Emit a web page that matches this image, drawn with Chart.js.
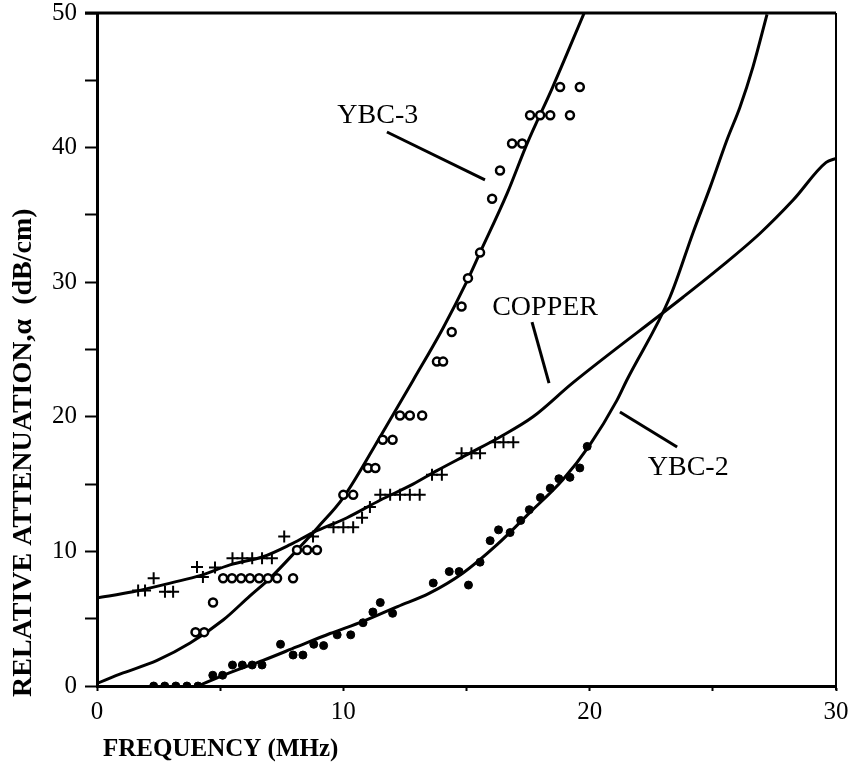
<!DOCTYPE html>
<html>
<head>
<meta charset="utf-8">
<script src="https://cdn.jsdelivr.net/npm/chart.js@4"></script>
<style>
  html, body { margin: 0; padding: 0; background: #fff; }
  #attn-chart { display: block; }
</style>
</head>
<body>
<canvas id="attn-chart" width="854" height="767"></canvas>
<script>
const ybc3X = [4.0, 4.35, 4.71, 5.12, 5.48, 5.85, 6.21, 6.58, 6.94, 7.31, 7.96, 8.12, 8.53, 8.93, 10.0, 10.4, 11.0, 11.3, 11.6, 12.0, 12.3, 12.7, 13.2, 13.8, 14.05, 14.4, 14.8, 15.06, 15.55, 16.04, 16.36, 16.85, 17.26, 17.58, 17.99, 18.4, 19.2, 18.8, 19.6]
const ybc3Y = [4.0, 4.0, 6.2, 8.0, 8.0, 8.0, 8.0, 8.0, 8.0, 8.0, 8.0, 10.1, 10.1, 10.1, 14.2, 14.2, 16.2, 16.2, 18.3, 18.3, 20.1, 20.1, 20.1, 24.1, 24.1, 26.3, 28.2, 30.3, 32.2, 36.2, 38.3, 40.3, 40.3, 42.4, 42.4, 42.4, 42.4, 44.5, 44.5]

const copperX = [1.67, 1.95, 2.3, 2.76, 3.09, 4.06, 4.3, 4.79, 5.5, 5.9, 6.3, 6.7, 7.1, 7.6, 8.77, 9.6, 10.0, 10.4, 10.76, 11.08, 11.5, 11.9, 12.3, 12.7, 13.1, 13.6, 14.0, 14.8, 15.2, 15.55, 16.16, 16.5, 16.9]
const copperY = [7.1, 7.1, 8.0, 7.0, 7.0, 8.85, 8.1, 8.8, 9.5, 9.5, 9.5, 9.5, 9.5, 11.1, 11.1, 11.8, 11.8, 11.8, 12.5, 13.3, 14.2, 14.2, 14.2, 14.2, 14.2, 15.7, 15.7, 17.3, 17.3, 17.3, 18.1, 18.1, 18.1]

const ybc2X = [2.3, 2.75, 3.2, 3.65, 4.1, 4.7, 5.1, 5.5, 5.9, 6.3, 6.7, 7.45, 7.96, 8.36, 8.8, 9.2, 9.75, 10.3, 10.8, 11.2, 11.5, 12.0, 13.65, 14.3, 14.7, 15.08, 15.55, 15.96, 16.3, 16.77, 17.2, 17.55, 18.0, 18.4, 18.75, 19.2, 19.6, 19.9]
const ybc2Y = [0, 0, 0, 0, 0, 0.8, 0.8, 1.56, 1.56, 1.56, 1.56, 3.1, 2.3, 2.3, 3.1, 3.0, 3.8, 3.8, 4.7, 5.5, 6.2, 5.4, 7.65, 8.5, 8.5, 7.5, 9.2, 10.8, 11.6, 11.4, 12.3, 13.1, 14.0, 14.7, 15.4, 15.5, 16.2, 17.8]

// fitted curves (traced)
const ybc3FitX = [0, 1.06, 2.44, 3.78, 5.12, 6.21, 7.02, 8.12, 8.97, 10.0, 11.49, 12.83, 14.05, 15.0, 15.55, 16.65, 17.46, 18.5, 19.8]
const ybc3FitY = [0.2, 0.97, 1.9, 3.19, 4.9, 6.7, 8.0, 10.1, 11.8, 14.0, 18.5, 22.7, 26.6, 30.0, 32.2, 36.6, 40.3, 44.5, 50.1]

const copperFitX = [0, 1.46, 3.09, 4.18, 5.4, 6.74, 7.84, 8.77, 10.15, 11.49, 12.83, 13.8, 15.14, 16.36, 17.7, 19.3, 23.8, 25.3, 26.9, 28.26, 29.6, 30]
const copperFitY = [6.55, 7.0, 7.7, 8.2, 9.0, 9.6, 10.5, 11.4, 12.5, 13.8, 15.0, 16.0, 17.3, 18.5, 20.0, 22.5, 28.9, 31.1, 33.6, 36.1, 38.9, 39.2]

const ybc2FitX = [4.18, 5.4, 6.74, 8.1, 9.46, 10.8, 12.2, 13.5, 14.86, 16.24, 17.58, 18.9, 20.0, 21.1, 21.5, 23.26, 24.2, 24.9, 25.58, 26.1, 26.63, 27.2]
const ybc2FitY = [0.07, 1.0, 1.9, 2.9, 3.9, 4.8, 5.9, 6.9, 8.4, 10.5, 12.9, 15.3, 17.9, 21.2, 22.7, 28.9, 33.7, 37.1, 40.6, 43.0, 46.0, 49.9]

// curve labels with their leader lines, in data units
const noteText = ['YBC-3', 'COPPER', 'YBC-2']
const noteX = [11.4, 18.19, 24.0]
const noteY = [42.4, 28.08, 16.2]
const leaderFromX = [11.77, 17.66, 21.23]
const leaderFromY = [41.16, 27.04, 20.36]
const leaderToX = [15.75, 18.35, 23.55]
const leaderToY = [37.6, 22.5, 17.76]

const xTitle = 'FREQUENCY (MHz)'
const yTitle = 'RELATIVE ATTENUATION,\u03b1  (dB/cm)'

const serif = "'Liberation Serif', 'DejaVu Serif', serif"

const toPoints = (xs, ys) => xs.map((x, i) => ({ x: x, y: ys[i] }))

const curve = (xs, ys) => ({
    type: 'line',
    data: toPoints(xs, ys),
    borderColor: '#000',
    borderWidth: 3,
    pointRadius: 0,
    cubicInterpolationMode: 'monotone',
    fill: false
})

// top and right edges of the frame, axis titles and curve labels
const framePlugin = {
    id: 'frame',
    afterDatasetsDraw(chart) {
        const { ctx, chartArea: a, scales } = chart
        ctx.save()
        ctx.strokeStyle = '#000'
        ctx.fillStyle = '#000'
        ctx.lineWidth = 3
        ctx.beginPath()
        ctx.moveTo(a.left - 12, a.top)
        ctx.lineTo(a.right, a.top)
        ctx.stroke()
        ctx.lineWidth = 2
        ctx.beginPath()
        ctx.moveTo(a.right, a.top)
        ctx.lineTo(a.right, a.bottom + 4)
        ctx.stroke()

        // curve labels
        ctx.lineWidth = 3
        ctx.font = "28px " + serif
        ctx.textAlign = 'center'
        ctx.textBaseline = 'middle'
        for (let i = 0; i < noteText.length; i++) {
            ctx.beginPath()
            ctx.moveTo(scales.x.getPixelForValue(leaderFromX[i]), scales.y.getPixelForValue(leaderFromY[i]))
            ctx.lineTo(scales.x.getPixelForValue(leaderToX[i]), scales.y.getPixelForValue(leaderToY[i]))
            ctx.stroke()
            ctx.fillText(noteText[i], scales.x.getPixelForValue(noteX[i]), scales.y.getPixelForValue(noteY[i]))
        }

        // axis titles
        ctx.textAlign = 'left'
        ctx.font = "bold 25px " + serif
        ctx.fillText(xTitle, a.left + 6, a.bottom + 64)
        ctx.translate(24, a.bottom + 11)
        ctx.rotate(-Math.PI / 2)
        ctx.font = "bold 28px " + serif
        ctx.fillText(yTitle, 0, 0)
        ctx.restore()
    }
}

const ctx = document.getElementById('attn-chart').getContext('2d')

new Chart(ctx, {
    type: 'scatter',
    data: {
        datasets: [
            {
                label: 'YBC-3',
                data: toPoints(ybc3X, ybc3Y),
                pointStyle: 'circle',
                pointRadius: 4,
                pointBorderWidth: 2.5,
                pointBackgroundColor: '#fff',
                pointBorderColor: '#000'
            },
            {
                label: 'COPPER',
                data: toPoints(copperX, copperY),
                pointStyle: 'cross',
                pointRadius: 6,
                pointBorderWidth: 2,
                pointBorderColor: '#000'
            },
            {
                label: 'YBC-2',
                data: toPoints(ybc2X, ybc2Y),
                pointStyle: 'circle',
                pointRadius: 4,
                pointBorderWidth: 1,
                pointBackgroundColor: '#000',
                pointBorderColor: '#000'
            },
            curve(ybc3FitX, ybc3FitY),
            curve(copperFitX, copperFitY),
            curve(ybc2FitX, ybc2FitY)
        ]
    },
    options: {
        responsive: false,
        animation: false,
        layout: { padding: { left: 0, top: 13, right: 18, bottom: 0 } },
        plugins: {
            legend: { display: false },
            tooltip: { enabled: false }
        },
        scales: {
            x: {
                type: 'linear',
                min: 0,
                max: 30,
                afterFit: (scale) => {
                    scale.height = 81
                    scale.paddingLeft = 0
                    scale.paddingRight = 0
                },
                border: { color: '#000', width: 3 },
                grid: { drawOnChartArea: false, color: '#000', tickLength: 5, tickWidth: 2 },
                ticks: {
                    stepSize: 5,
                    color: '#000',
                    padding: 6,
                    font: { family: serif, size: 25 },
                    callback: (v) => v % 10 === 0 ? v : ''
                }
            },
            y: {
                min: 0,
                max: 50,
                afterFit: (scale) => {
                    scale.width = 97
                    scale.paddingTop = 0
                    scale.paddingBottom = 0
                },
                border: { color: '#000', width: 3 },
                grid: { drawOnChartArea: false, color: '#000', tickLength: 12, tickWidth: 2 },
                ticks: {
                    stepSize: 5,
                    color: '#000',
                    padding: 8,
                    font: { family: serif, size: 25 },
                    callback: (v) => v % 10 === 0 ? v : ''
                }
            }
        }
    },
    plugins: [framePlugin]
})
</script>
</body>
</html>
